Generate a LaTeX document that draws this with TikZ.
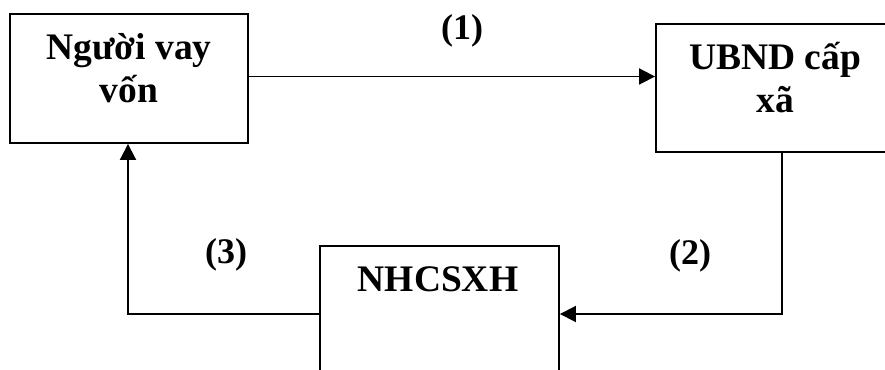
\documentclass[tikz,border=0pt]{standalone}
\usepackage{fontspec}
\setmainfont{Liberation Serif}
\usetikzlibrary{arrows.meta}
\begin{document}
\begin{tikzpicture}[x=1pt,y=1pt,
  box/.style={draw, line width=1.9pt, minimum width=238pt, inner sep=0pt},
  txt/.style={font=\fontsize{37.5}{43}\selectfont\bfseries, anchor=base, inner sep=0pt},
  lbl/.style={font=\fontsize{36}{40}\selectfont\bfseries, anchor=base, inner sep=0pt},
  arr/.style={line width=1.9pt, -{Triangle[length=16pt,width=16pt]}}]
\useasboundingbox (0,0) rectangle (885,369);
\clip (0,0) rectangle (885,369);
\fill[white] (0,0) rectangle (885,369);
% boxes
\node[box, minimum height=129pt] (a) at (129,290.5) {};
\node[box, minimum height=128pt] (b) at (775,281) {};
\node[box, minimum width=239pt, minimum height=128pt] (c) at (439.5,59) {};
% texts
\node[txt] (a1) at (129,309) {Người vay};
\node[txt] (a2) at (129,266) {vốn};
\node[txt] (b1) at (775,299) {UBND cấp};
\node[txt] (b2) at (775,256) {xã};
\node[txt] (c1) at (438,77) {NHCSXH};
% labels
\node[lbl] (l1) at (462,329) {(1)};
\node[lbl] (l2) at (690,104) {(2)};
\node[lbl] (l3) at (226,105) {(3)};
% connectors
\draw[arr] ([yshift=2pt]a.east) -- ([yshift=2pt]a.east -| b.west);
\draw[arr] ([xshift=7pt]b.south) |- ([yshift=-4pt]c.east);
\draw[arr] ([yshift=-4pt]c.west) -| ([xshift=-1pt]a.south);
\end{tikzpicture}
\end{document}
